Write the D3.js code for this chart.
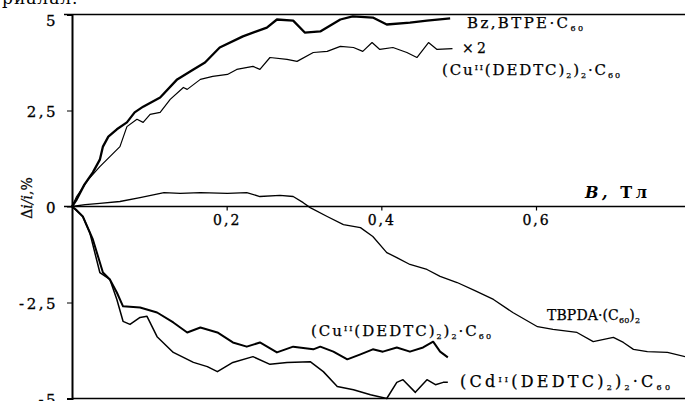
<!DOCTYPE html>
<html>
<head>
<meta charset="utf-8">
<script src="https://cdn.jsdelivr.net/npm/d3@7"></script>
<style>
  body { margin: 0; background: #fff; }
  text { font-family: "DejaVu Serif", serif; fill: #000; }
</style>
</head>
<body>
<div id="chart-area"></div>
<script>
// B (Tl), delta i / i (%)
const bzBtpe = [[0,0],[0.006,0.18],[0.016,0.57],[0.027,0.89],[0.036,1.22],[0.040,1.56],[0.047,1.82],
  [0.058,2.01],[0.071,2.19],[0.081,2.45],[0.092,2.60],[0.114,2.84],[0.136,3.31],[0.157,3.57],[0.172,3.75],
  [0.191,4.14],[0.221,4.43],[0.252,4.66],[0.265,4.87],[0.286,4.84],[0.301,4.53],[0.321,4.56],[0.347,4.87],
  [0.363,4.95],[0.389,4.92],[0.407,4.74],[0.437,4.79],[0.459,4.84],[0.489,4.90]];

const cuTop = [[0,0],[0.006,0.26],[0.021,0.70],[0.036,1.04],[0.049,1.30],[0.062,1.56],[0.071,2.08],
  [0.084,2.27],[0.092,2.19],[0.101,2.40],[0.114,2.45],[0.127,2.79],[0.144,3.10],[0.149,3.05],[0.166,3.31],
  [0.182,3.39],[0.201,3.44],[0.213,3.57],[0.234,3.65],[0.243,3.57],[0.256,3.88],[0.278,3.83],[0.291,3.78],
  [0.312,4.01],[0.330,4.04],[0.347,4.17],[0.364,4.14],[0.376,4.04],[0.388,4.27],[0.398,4.09],[0.415,4.14],
  [0.433,4.01],[0.446,3.88],[0.461,4.27],[0.472,4.09],[0.492,4.11]];

const tbpda = [[0,0],[0.017,0.05],[0.036,0.08],[0.062,0.13],[0.088,0.23],[0.119,0.36],[0.140,0.34],
  [0.166,0.36],[0.201,0.34],[0.226,0.36],[0.243,0.26],[0.269,0.29],[0.286,0.26],[0.299,0.10],[0.308,-0.03],
  [0.330,-0.26],[0.351,-0.47],[0.373,-0.55],[0.389,-0.78],[0.407,-1.20],[0.420,-1.33],[0.437,-1.51],
  [0.459,-1.64],[0.476,-1.82],[0.498,-1.98],[0.521,-2.19],[0.545,-2.42],[0.570,-2.76],[0.602,-3.13],
  [0.622,-3.20],[0.653,-3.28],[0.674,-3.52],[0.700,-3.41],[0.713,-3.54],[0.726,-3.72],[0.744,-3.78],
  [0.770,-3.80],[0.793,-3.91]];

const cuBottom = [[0,0],[0.005,-0.08],[0.014,-0.26],[0.027,-0.86],[0.040,-1.72],[0.049,-1.90],[0.058,-2.24],
  [0.066,-2.60],[0.088,-2.63],[0.110,-2.76],[0.131,-3.02],[0.149,-3.28],[0.166,-3.15],[0.188,-3.28],
  [0.208,-3.54],[0.226,-3.65],[0.243,-3.54],[0.265,-3.80],[0.286,-3.65],[0.312,-3.72],[0.321,-3.65],
  [0.338,-3.78],[0.356,-3.98],[0.373,-3.85],[0.389,-3.72],[0.402,-3.78],[0.420,-3.67],[0.437,-3.78],
  [0.454,-3.67],[0.467,-3.52],[0.476,-3.78],[0.486,-3.93]];

const cdBottom = [[0,0],[0.014,-0.26],[0.023,-0.68],[0.036,-1.72],[0.049,-1.90],[0.058,-2.42],[0.066,-2.99],
  [0.075,-3.07],[0.088,-2.89],[0.097,-2.86],[0.110,-3.39],[0.131,-3.80],[0.157,-4.06],[0.175,-4.17],
  [0.188,-4.30],[0.208,-4.06],[0.234,-3.91],[0.256,-4.11],[0.278,-4.06],[0.308,-4.04],[0.325,-4.30],
  [0.343,-4.69],[0.364,-4.77],[0.386,-4.90],[0.407,-5.00],[0.420,-4.58],[0.428,-4.51],[0.444,-4.84],
  [0.459,-4.51],[0.470,-4.64],[0.480,-4.58],[0.486,-4.58]];

const xTicks = [0.2, 0.4, 0.6];
const yTicks = [5, 2.5, 0, -2.5, -5];

let width = 685, height = 401;

let svg = d3.select("#chart-area")
  .append("svg")
  .attr("width", width)
  .attr("height", height);

svg.append("rect").attr("width", width).attr("height", height).attr("fill", "#fff");

let x = d3.scaleLinear().domain([0, 0.6]).range([72, 536]);
let y = d3.scaleLinear().domain([-5, 5]).range([398.5, 14.5]);

let comma = d => String(d).replace(".", ",");

// frame lines
svg.append("line").attr("x1", 64).attr("x2", 685).attr("y1", y(5)).attr("y2", y(5))
  .attr("stroke", "#000").attr("stroke-width", 1.5);
svg.append("line").attr("x1", 72).attr("x2", 685).attr("y1", y(-5)).attr("y2", y(-5))
  .attr("stroke", "#000").attr("stroke-width", 1.5);
svg.append("line").attr("x1", 64).attr("x2", 685).attr("y1", y(0)).attr("y2", y(0))
  .attr("stroke", "#000").attr("stroke-width", 1.5);

// X axis
let xAxis = svg.append("g")
  .attr("transform", "translate(0," + y(0) + ")")
  .call(d3.axisBottom(x).tickValues(xTicks).tickSize(4).tickPadding(5).tickFormat(comma));
xAxis.select(".domain").remove();
xAxis.selectAll("line").attr("stroke-width", 1.2);
xAxis.selectAll("text")
  .attr("font-family", "DejaVu Serif")
  .attr("font-size", "14px")
  .attr("letter-spacing", "2px")
  .attr("stroke", "#000").attr("stroke-width", 0.3);

// Y axis
let yAxis = svg.append("g")
  .attr("transform", "translate(72,0)")
  .call(d3.axisLeft(y).tickValues(yTicks).tickSize(5).tickPadding(9).tickFormat(comma));
yAxis.select(".domain").attr("stroke-width", 2);
yAxis.selectAll("text")
  .attr("font-family", "DejaVu Serif")
  .attr("font-size", "15px")
  .attr("letter-spacing", "2.5px")
  .attr("stroke", "#000").attr("stroke-width", 0.3)
  .attr("dy", d => d == 5 ? "0.7em" : "0.4em");

// curves
let line = d3.line().x(d => x(d[0])).y(d => y(d[1]));
let curves = [
  { data: bzBtpe, w: 2.3 },
  { data: cuTop, w: 1.2 },
  { data: tbpda, w: 1.3 },
  { data: cuBottom, w: 2 },
  { data: cdBottom, w: 1.5 }
];
svg.selectAll(".curve")
  .data(curves)
  .enter()
  .append("path")
  .attr("class", "curve")
  .attr("d", d => line(d.data))
  .attr("fill", "none")
  .attr("stroke", "#000")
  .attr("stroke-width", d => d.w)
  .attr("stroke-linejoin", "round");

// label helper: parts [text, "n" | "sub" | "sup"]
function label(px, py, len, parts, size) {
  let t = svg.append("text")
    .attr("x", px).attr("y", py)
    .attr("font-size", size + "px")
    .attr("stroke", "#000").attr("stroke-width", 0.25)
    .attr("textLength", len)
    .attr("lengthAdjust", "spacing");
  let shift = 0;
  parts.forEach(p => {
    let target = p[1] == "sub" ? 3 : p[1] == "sup" ? -5 : 0;
    t.append("tspan")
      .attr("dy", target - shift)
      .attr("font-size", p[1] == "n" ? size + "px" : "8px")
      .text(p[0]);
    shift = target;
  });
  return t;
}

label(467, 28, 116, [["Bz,BTPE·C","n"],["60","sub"]], 15);
label(462, 53, 24, [["× 2","n"]], 14);
label(442, 75, 178, [["(Cu","n"],["II","sup"],["(DEDTC)","n"],["2","sub"],[")","n"],["2","sub"],["·C","n"],["60","sub"]], 15);
label(547, 320, 93, [["TBPDA·(C","n"],["60","sub"],[")","n"],["2","sub"]], 14);
label(311, 336, 180, [["(Cu","n"],["II","sup"],["(DEDTC)","n"],["2","sub"],[")","n"],["2","sub"],["·C","n"],["60","sub"]], 15);
label(460, 387, 210, [["(Cd","n"],["II","sup"],["(DEDTC)","n"],["2","sub"],[")","n"],["2","sub"],["·C","n"],["60","sub"]], 16);

// X label
let xl = svg.append("text")
  .attr("x", 585).attr("y", 198)
  .attr("font-size", "16px")
  .attr("font-weight", "bold")
  .attr("textLength", 62)
  .attr("lengthAdjust", "spacing");
xl.append("tspan").attr("font-style", "italic").text("B,");
xl.append("tspan").text(" Тл");

// Y label
let yl = svg.append("text")
  .attr("transform", "translate(32,198) rotate(-90)")
  .attr("text-anchor", "middle")
  .attr("font-size", "14px")
  .attr("stroke", "#000").attr("stroke-width", 0.25);
yl.append("tspan").text("Δ");
yl.append("tspan").attr("font-style", "italic").text("i/i");
yl.append("tspan").text(",%");

// clipped text from the page above
svg.append("text")
  .attr("x", 2).attr("y", 4)
  .attr("font-size", "17px")
  .attr("letter-spacing", "1px")
  .text("риалал.");
</script>
</body>
</html>
